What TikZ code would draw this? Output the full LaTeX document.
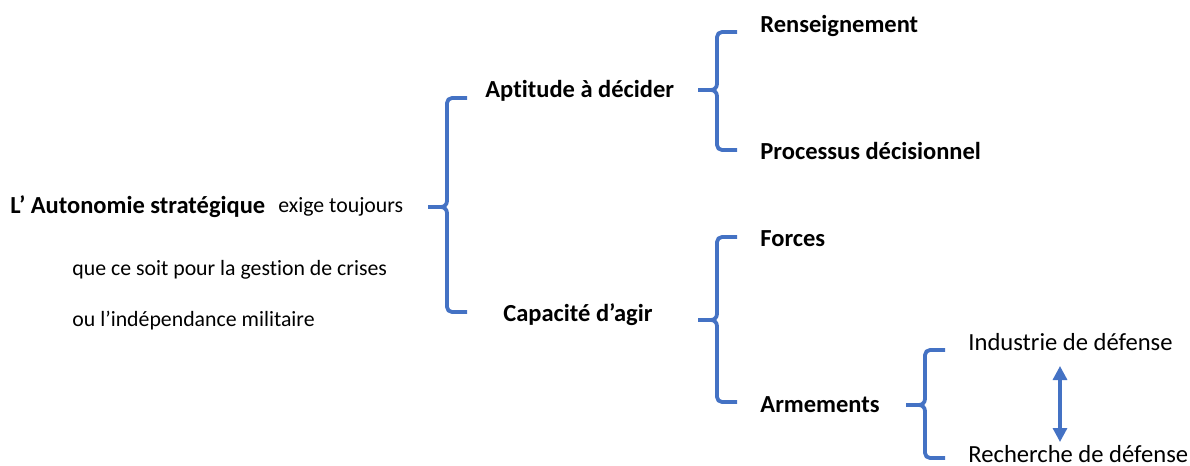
\documentclass[tikz,border=0pt]{standalone}
\usepackage{fontspec}
\setmainfont{Carlito}[Ligatures={NoCommon}]
\usetikzlibrary{arrows.meta}
\definecolor{braceblue}{HTML}{4472C4}
\tikzset{
  hd/.style={anchor=west, inner sep=0pt, font=\fontsize{12.25}{14}\selectfont\bfseries},
  lf/.style={anchor=west, inner sep=0pt, font=\fontsize{12.3}{14}\selectfont},
  sm/.style={anchor=west, inner sep=0pt, font=\fontsize{10.9}{13}\selectfont},
  br/.style={draw=braceblue, line width=1.9pt, line join=round},
}
% left curly bracket: #1 = x of the spine, #2 = top y, #3 = bottom y, #4 = y of the tip
\newcommand\leftbracket[4]{%
  \draw[br] (#1+20,#2) -- (#1+5,#2) to[out=180,in=90] (#1,#2+5)
    -- (#1,#4-6) to[out=-90,in=0] (#1-6,#4) -- (#1-19,#4);
  \draw[br] (#1+20,#3) -- (#1+5,#3) to[out=180,in=-90] (#1,#3-5)
    -- (#1,#4+6) to[out=90,in=0] (#1-6,#4);
}
\begin{document}
\begin{tikzpicture}[x=0.5pt,y=-0.5pt]
\useasboundingbox (0,0) rectangle (1190,466);

% left-hand statement
\node[hd] (auto) at (10,207) {L’ Autonomie stratégique};
\node[sm] (exige) at (278,207) {exige toujours};
\node[sm] (crise) at (72,270) {que ce soit pour la gestion de crises};
\node[sm] (indep) at (72,321) {ou l’indépendance militaire};

% first level
\node[hd] (apt) at (485,91) {Aptitude à décider};
\node[hd] (cap) at (503,315) {Capacité d’agir};

% second level
\node[hd] (rens) at (760,26) {Renseignement};
\node[hd] (proc) at (760,151) {Processus décisionnel};
\node[hd] (forc) at (760,239) {Forces};
\node[hd] (arm) at (760,405) {Armements};

% third level
\node[lf] (ind) at (968,342) {Industrie de défense};
\node[lf] (rech) at (968,454) {Recherche de défense};

% brackets
\leftbracket{447}{98}{312}{207}
\leftbracket{717}{32}{150}{90}
\leftbracket{717}{237}{402}{320}
\leftbracket{925}{350}{458}{405}

% two-way link between industry and research
\coordinate (up) at (1060,366);
\coordinate (dn) at (1060,442);
\draw[braceblue, line width=1.6pt, {Triangle[length=7pt,width=7pt]}-{Triangle[length=7pt,width=7pt]}] (up) -- (dn);
\end{tikzpicture}
\end{document}
